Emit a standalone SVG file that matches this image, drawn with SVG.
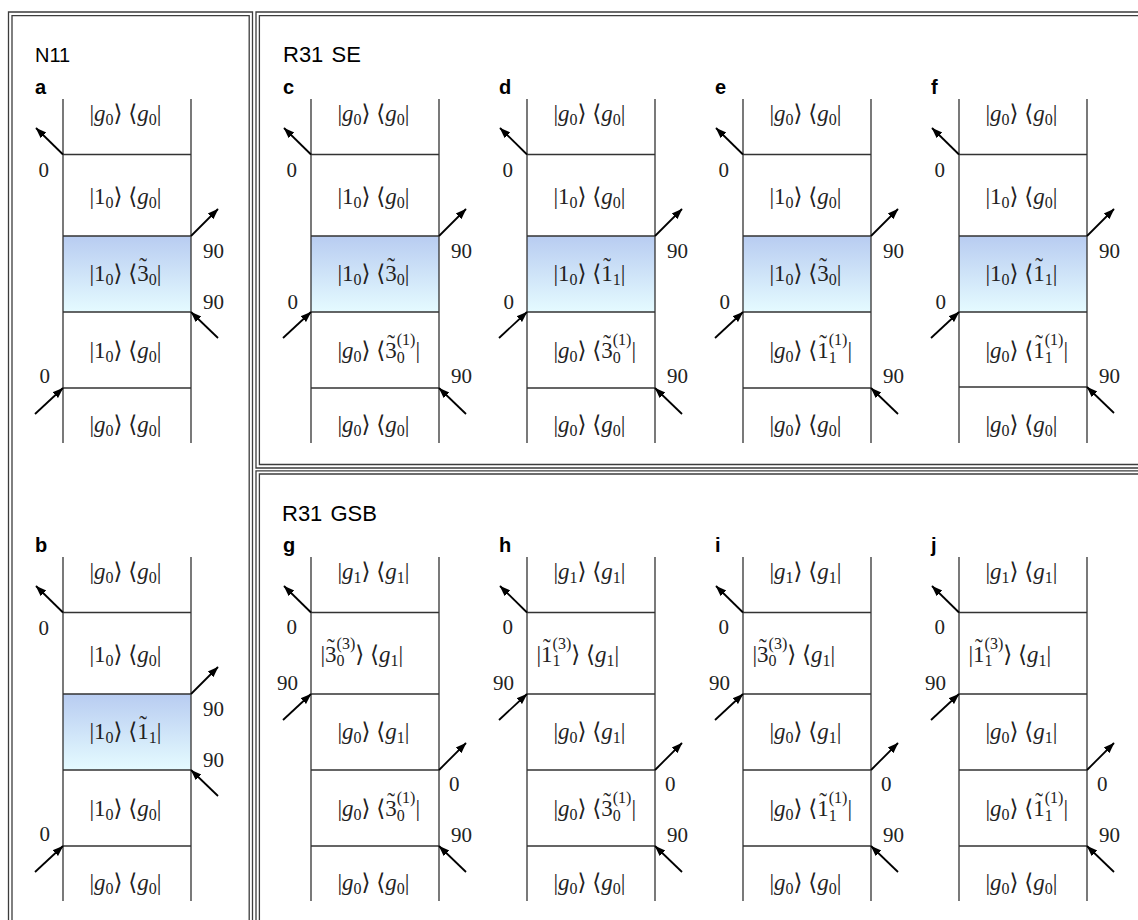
<svg xmlns="http://www.w3.org/2000/svg" width="1138" height="920" viewBox="0 0 1138 920">
<style>
.fr{fill:none;stroke:#3c3c3c;stroke-width:1.3}
.ld{fill:none;stroke:#333;stroke-width:1.3}
.ar{stroke:#000;stroke-width:1.8;fill:none;marker-end:url(#ah)}
.m{font-family:'Liberation Serif','DejaVu Serif',serif;font-size:23px;fill:#222}
.n{font-family:'Liberation Serif','DejaVu Serif',serif;font-size:21px;fill:#222}
.e{text-anchor:end}
.t{font-family:'Liberation Sans',Arial,sans-serif;font-size:20px;fill:#000}
.w{font-size:22px;word-spacing:2px}
.lb{font-family:'Liberation Sans',Arial,sans-serif;font-size:20px;font-weight:bold;fill:#000}
.i{font-style:italic}
.s{font-size:16px}
.sh{fill:url(#gr)}
</style>
<defs>
<linearGradient id="gr" x1="0" y1="0" x2="0" y2="1">
<stop offset="0" stop-color="#b8ccf1"/>
<stop offset="1" stop-color="#e5fbff"/>
</linearGradient>
<marker id="ah" markerWidth="12" markerHeight="10" refX="10.5" refY="5" orient="auto" markerUnits="userSpaceOnUse">
<path d="M0,1 L11,5 L0,9 z" fill="#000"/>
</marker>
</defs>
<rect width="1138" height="920" fill="#fff"/>

<g id="frames">
<path class="fr" d="M8.5,925 V12 H252.5 V925"/>
<path class="fr" d="M12,925 V15.7 H249.2 V925"/>
<path class="fr" d="M1145,12 H256 V468 H1145"/>
<path class="fr" d="M1145,15.7 H259.4 V464.5 H1145"/>
<path class="fr" d="M1145,470.8 H256 V925"/>
<path class="fr" d="M1145,474 H259.4 V925"/>
<text class="t" x="35" y="62">N11</text>
<text class="t w" x="283" y="62">R31 SE</text>
<text class="t w" x="282" y="521">R31 GSB</text>
</g>

<!-- Panel a -->
<g id="panel-a">
<rect class="sh" x="63" y="236" width="128" height="76"/>
<path class="ld" d="M63,99 V443 M191,99 V443 M63,154.5 H191 M63,236 H191 M63,312 H191 M63,388 H191"/>
<text class="lb" x="35" y="94">a</text>
<text class="m" x="89.5" y="121">|<tspan class="i">g</tspan><tspan class="s" dy="4">0</tspan><tspan dy="-4">⟩ ⟨</tspan><tspan class="i">g</tspan><tspan class="s" dy="4">0</tspan><tspan dy="-4">|</tspan></text>
<text class="m" x="89.5" y="203.5">|1<tspan class="s" dy="4">0</tspan><tspan dy="-4">⟩ ⟨</tspan><tspan class="i">g</tspan><tspan class="s" dy="4">0</tspan><tspan dy="-4">|</tspan></text>
<text class="m" x="89.5" y="281">|1<tspan class="s" dy="4">0</tspan><tspan dy="-4">⟩ ⟨3</tspan><tspan dx="-9.6" dy="-7">˜</tspan><tspan class="s" dx="1.9" dy="11">0</tspan><tspan dy="-4">|</tspan></text>
<text class="m" x="89.5" y="358">|1<tspan class="s" dy="4">0</tspan><tspan dy="-4">⟩ ⟨</tspan><tspan class="i">g</tspan><tspan class="s" dy="4">0</tspan><tspan dy="-4">|</tspan></text>
<text class="m" x="89.5" y="432">|<tspan class="i">g</tspan><tspan class="s" dy="4">0</tspan><tspan dy="-4">⟩ ⟨</tspan><tspan class="i">g</tspan><tspan class="s" dy="4">0</tspan><tspan dy="-4">|</tspan></text>
<text class="n e" x="49" y="177">0</text>
<text class="n" x="203" y="257.5">90</text>
<text class="n" x="203" y="308.5">90</text>
<text class="n e" x="50" y="382.5">0</text>
</g>

<!-- Panel b -->
<g id="panel-b">
<rect class="sh" x="63" y="694" width="128" height="76"/>
<path class="ld" d="M63,557 V901 M191,557 V901 M63,612.5 H191 M63,694 H191 M63,770 H191 M63,846 H191"/>
<text class="lb" x="35" y="552">b</text>
<text class="m" x="89.5" y="579">|<tspan class="i">g</tspan><tspan class="s" dy="4">0</tspan><tspan dy="-4">⟩ ⟨</tspan><tspan class="i">g</tspan><tspan class="s" dy="4">0</tspan><tspan dy="-4">|</tspan></text>
<text class="m" x="89.5" y="661.5">|1<tspan class="s" dy="4">0</tspan><tspan dy="-4">⟩ ⟨</tspan><tspan class="i">g</tspan><tspan class="s" dy="4">0</tspan><tspan dy="-4">|</tspan></text>
<text class="m" x="89.5" y="739">|1<tspan class="s" dy="4">0</tspan><tspan dy="-4">⟩ ⟨1</tspan><tspan dx="-9.6" dy="-7">˜</tspan><tspan class="s" dx="1.9" dy="11">1</tspan><tspan dy="-4">|</tspan></text>
<text class="m" x="89.5" y="816">|1<tspan class="s" dy="4">0</tspan><tspan dy="-4">⟩ ⟨</tspan><tspan class="i">g</tspan><tspan class="s" dy="4">0</tspan><tspan dy="-4">|</tspan></text>
<text class="m" x="89.5" y="890">|<tspan class="i">g</tspan><tspan class="s" dy="4">0</tspan><tspan dy="-4">⟩ ⟨</tspan><tspan class="i">g</tspan><tspan class="s" dy="4">0</tspan><tspan dy="-4">|</tspan></text>
<text class="n e" x="49" y="635">0</text>
<text class="n" x="203" y="715.5">90</text>
<text class="n" x="203" y="766.5">90</text>
<text class="n e" x="50" y="840.5">0</text>
</g>

<!-- Panel c -->
<g id="panel-c">
<rect class="sh" x="311" y="236" width="128" height="76"/>
<path class="ld" d="M311,99 V443 M439,99 V443 M311,154.5 H439 M311,236 H439 M311,312 H439 M311,388 H439"/>
<text class="lb" x="283" y="94">c</text>
<text class="m" x="337.5" y="121">|<tspan class="i">g</tspan><tspan class="s" dy="4">0</tspan><tspan dy="-4">⟩ ⟨</tspan><tspan class="i">g</tspan><tspan class="s" dy="4">0</tspan><tspan dy="-4">|</tspan></text>
<text class="m" x="337.5" y="203.5">|1<tspan class="s" dy="4">0</tspan><tspan dy="-4">⟩ ⟨</tspan><tspan class="i">g</tspan><tspan class="s" dy="4">0</tspan><tspan dy="-4">|</tspan></text>
<text class="m" x="337.5" y="281">|1<tspan class="s" dy="4">0</tspan><tspan dy="-4">⟩ ⟨3</tspan><tspan dx="-9.6" dy="-7">˜</tspan><tspan class="s" dx="1.9" dy="11">0</tspan><tspan dy="-4">|</tspan></text>
<text class="m" x="337.5" y="358">|<tspan class="i">g</tspan><tspan class="s" dy="4">0</tspan><tspan dy="-4">⟩ ⟨3</tspan><tspan dx="-9.6" dy="-7">˜</tspan><tspan class="s" dx="1.9" dy="-6">(1)</tspan><tspan class="s" dx="-18.7" dy="17.5">0</tspan><tspan dx="10.7" dy="-4.5">|</tspan></text>
<text class="m" x="337.5" y="432">|<tspan class="i">g</tspan><tspan class="s" dy="4">0</tspan><tspan dy="-4">⟩ ⟨</tspan><tspan class="i">g</tspan><tspan class="s" dy="4">0</tspan><tspan dy="-4">|</tspan></text>
<text class="n e" x="297" y="177">0</text>
<text class="n" x="451" y="257.5">90</text>
<text class="n e" x="298" y="308.5">0</text>
<text class="n" x="451" y="382.5">90</text>
</g>

<!-- Panel d -->
<g id="panel-d">
<rect class="sh" x="527" y="236" width="128" height="76"/>
<path class="ld" d="M527,99 V443 M655,99 V443 M527,154.5 H655 M527,236 H655 M527,312 H655 M527,388 H655"/>
<text class="lb" x="499" y="94">d</text>
<text class="m" x="553.5" y="121">|<tspan class="i">g</tspan><tspan class="s" dy="4">0</tspan><tspan dy="-4">⟩ ⟨</tspan><tspan class="i">g</tspan><tspan class="s" dy="4">0</tspan><tspan dy="-4">|</tspan></text>
<text class="m" x="553.5" y="203.5">|1<tspan class="s" dy="4">0</tspan><tspan dy="-4">⟩ ⟨</tspan><tspan class="i">g</tspan><tspan class="s" dy="4">0</tspan><tspan dy="-4">|</tspan></text>
<text class="m" x="553.5" y="281">|1<tspan class="s" dy="4">0</tspan><tspan dy="-4">⟩ ⟨1</tspan><tspan dx="-9.6" dy="-7">˜</tspan><tspan class="s" dx="1.9" dy="11">1</tspan><tspan dy="-4">|</tspan></text>
<text class="m" x="553.5" y="358">|<tspan class="i">g</tspan><tspan class="s" dy="4">0</tspan><tspan dy="-4">⟩ ⟨3</tspan><tspan dx="-9.6" dy="-7">˜</tspan><tspan class="s" dx="1.9" dy="-6">(1)</tspan><tspan class="s" dx="-18.7" dy="17.5">0</tspan><tspan dx="10.7" dy="-4.5">|</tspan></text>
<text class="m" x="553.5" y="432">|<tspan class="i">g</tspan><tspan class="s" dy="4">0</tspan><tspan dy="-4">⟩ ⟨</tspan><tspan class="i">g</tspan><tspan class="s" dy="4">0</tspan><tspan dy="-4">|</tspan></text>
<text class="n e" x="513" y="177">0</text>
<text class="n" x="667" y="257.5">90</text>
<text class="n e" x="514" y="308.5">0</text>
<text class="n" x="667" y="382.5">90</text>
</g>

<!-- Panel e -->
<g id="panel-e">
<rect class="sh" x="743" y="236" width="128" height="76"/>
<path class="ld" d="M743,99 V443 M871,99 V443 M743,154.5 H871 M743,236 H871 M743,312 H871 M743,388 H871"/>
<text class="lb" x="715" y="94">e</text>
<text class="m" x="769.5" y="121">|<tspan class="i">g</tspan><tspan class="s" dy="4">0</tspan><tspan dy="-4">⟩ ⟨</tspan><tspan class="i">g</tspan><tspan class="s" dy="4">0</tspan><tspan dy="-4">|</tspan></text>
<text class="m" x="769.5" y="203.5">|1<tspan class="s" dy="4">0</tspan><tspan dy="-4">⟩ ⟨</tspan><tspan class="i">g</tspan><tspan class="s" dy="4">0</tspan><tspan dy="-4">|</tspan></text>
<text class="m" x="769.5" y="281">|1<tspan class="s" dy="4">0</tspan><tspan dy="-4">⟩ ⟨3</tspan><tspan dx="-9.6" dy="-7">˜</tspan><tspan class="s" dx="1.9" dy="11">0</tspan><tspan dy="-4">|</tspan></text>
<text class="m" x="769.5" y="358">|<tspan class="i">g</tspan><tspan class="s" dy="4">0</tspan><tspan dy="-4">⟩ ⟨1</tspan><tspan dx="-9.6" dy="-7">˜</tspan><tspan class="s" dx="1.9" dy="-6">(1)</tspan><tspan class="s" dx="-18.7" dy="17.5">1</tspan><tspan dx="10.7" dy="-4.5">|</tspan></text>
<text class="m" x="769.5" y="432">|<tspan class="i">g</tspan><tspan class="s" dy="4">0</tspan><tspan dy="-4">⟩ ⟨</tspan><tspan class="i">g</tspan><tspan class="s" dy="4">0</tspan><tspan dy="-4">|</tspan></text>
<text class="n e" x="729" y="177">0</text>
<text class="n" x="883" y="257.5">90</text>
<text class="n e" x="730" y="308.5">0</text>
<text class="n" x="883" y="382.5">90</text>
</g>

<!-- Panel f -->
<g id="panel-f">
<rect class="sh" x="959" y="236" width="128" height="76"/>
<path class="ld" d="M959,99 V443 M1087,99 V443 M959,154.5 H1087 M959,236 H1087 M959,312 H1087 M959,387 H1087"/>
<text class="lb" x="931" y="94">f</text>
<text class="m" x="985.5" y="121">|<tspan class="i">g</tspan><tspan class="s" dy="4">0</tspan><tspan dy="-4">⟩ ⟨</tspan><tspan class="i">g</tspan><tspan class="s" dy="4">0</tspan><tspan dy="-4">|</tspan></text>
<text class="m" x="985.5" y="203.5">|1<tspan class="s" dy="4">0</tspan><tspan dy="-4">⟩ ⟨</tspan><tspan class="i">g</tspan><tspan class="s" dy="4">0</tspan><tspan dy="-4">|</tspan></text>
<text class="m" x="985.5" y="281">|1<tspan class="s" dy="4">0</tspan><tspan dy="-4">⟩ ⟨1</tspan><tspan dx="-9.6" dy="-7">˜</tspan><tspan class="s" dx="1.9" dy="11">1</tspan><tspan dy="-4">|</tspan></text>
<text class="m" x="985.5" y="358">|<tspan class="i">g</tspan><tspan class="s" dy="4">0</tspan><tspan dy="-4">⟩ ⟨1</tspan><tspan dx="-9.6" dy="-7">˜</tspan><tspan class="s" dx="1.9" dy="-6">(1)</tspan><tspan class="s" dx="-18.7" dy="17.5">1</tspan><tspan dx="10.7" dy="-4.5">|</tspan></text>
<text class="m" x="985.5" y="432">|<tspan class="i">g</tspan><tspan class="s" dy="4">0</tspan><tspan dy="-4">⟩ ⟨</tspan><tspan class="i">g</tspan><tspan class="s" dy="4">0</tspan><tspan dy="-4">|</tspan></text>
<text class="n e" x="945" y="177">0</text>
<text class="n" x="1099" y="257.5">90</text>
<text class="n e" x="946" y="308.5">0</text>
<text class="n" x="1099" y="382.5">90</text>
</g>

<!-- Panel g -->
<g id="panel-g">
<path class="ld" d="M311,557 V901 M439,557 V901 M311,612.5 H439 M311,694 H439 M311,770 H439 M311,846 H439"/>
<text class="lb" x="283" y="552">g</text>
<text class="m" x="337.5" y="579">|<tspan class="i">g</tspan><tspan class="s" dy="4">1</tspan><tspan dy="-4">⟩ ⟨</tspan><tspan class="i">g</tspan><tspan class="s" dy="4">1</tspan><tspan dy="-4">|</tspan></text>
<text class="m" x="320.5" y="661.5">|3<tspan dx="-9.6" dy="-7">˜</tspan><tspan class="s" dx="1.9" dy="-6">(3)</tspan><tspan class="s" dx="-18.7" dy="17.5">0</tspan><tspan dx="10.7" dy="-4.5">⟩ ⟨</tspan><tspan class="i">g</tspan><tspan class="s" dy="4">1</tspan><tspan dy="-4">|</tspan></text>
<text class="m" x="337.5" y="739">|<tspan class="i">g</tspan><tspan class="s" dy="4">0</tspan><tspan dy="-4">⟩ ⟨</tspan><tspan class="i">g</tspan><tspan class="s" dy="4">1</tspan><tspan dy="-4">|</tspan></text>
<text class="m" x="337.5" y="816">|<tspan class="i">g</tspan><tspan class="s" dy="4">0</tspan><tspan dy="-4">⟩ ⟨3</tspan><tspan dx="-9.6" dy="-7">˜</tspan><tspan class="s" dx="1.9" dy="-6">(1)</tspan><tspan class="s" dx="-18.7" dy="17.5">0</tspan><tspan dx="10.7" dy="-4.5">|</tspan></text>
<text class="m" x="337.5" y="890">|<tspan class="i">g</tspan><tspan class="s" dy="4">0</tspan><tspan dy="-4">⟩ ⟨</tspan><tspan class="i">g</tspan><tspan class="s" dy="4">0</tspan><tspan dy="-4">|</tspan></text>
<text class="n e" x="297" y="633.5">0</text>
<text class="n e" x="298" y="689.5">90</text>
<text class="n" x="449" y="791">0</text>
<text class="n" x="451" y="842">90</text>
</g>

<!-- Panel h -->
<g id="panel-h">
<path class="ld" d="M527,557 V901 M655,557 V901 M527,612.5 H655 M527,694 H655 M527,770 H655 M527,846 H655"/>
<text class="lb" x="499" y="552">h</text>
<text class="m" x="553.5" y="579">|<tspan class="i">g</tspan><tspan class="s" dy="4">1</tspan><tspan dy="-4">⟩ ⟨</tspan><tspan class="i">g</tspan><tspan class="s" dy="4">1</tspan><tspan dy="-4">|</tspan></text>
<text class="m" x="536.5" y="661.5">|1<tspan dx="-9.6" dy="-7">˜</tspan><tspan class="s" dx="1.9" dy="-6">(3)</tspan><tspan class="s" dx="-18.7" dy="17.5">1</tspan><tspan dx="10.7" dy="-4.5">⟩ ⟨</tspan><tspan class="i">g</tspan><tspan class="s" dy="4">1</tspan><tspan dy="-4">|</tspan></text>
<text class="m" x="553.5" y="739">|<tspan class="i">g</tspan><tspan class="s" dy="4">0</tspan><tspan dy="-4">⟩ ⟨</tspan><tspan class="i">g</tspan><tspan class="s" dy="4">1</tspan><tspan dy="-4">|</tspan></text>
<text class="m" x="553.5" y="816">|<tspan class="i">g</tspan><tspan class="s" dy="4">0</tspan><tspan dy="-4">⟩ ⟨3</tspan><tspan dx="-9.6" dy="-7">˜</tspan><tspan class="s" dx="1.9" dy="-6">(1)</tspan><tspan class="s" dx="-18.7" dy="17.5">0</tspan><tspan dx="10.7" dy="-4.5">|</tspan></text>
<text class="m" x="553.5" y="890">|<tspan class="i">g</tspan><tspan class="s" dy="4">0</tspan><tspan dy="-4">⟩ ⟨</tspan><tspan class="i">g</tspan><tspan class="s" dy="4">0</tspan><tspan dy="-4">|</tspan></text>
<text class="n e" x="513" y="633.5">0</text>
<text class="n e" x="514" y="689.5">90</text>
<text class="n" x="665" y="791">0</text>
<text class="n" x="667" y="842">90</text>
</g>

<!-- Panel i -->
<g id="panel-i">
<path class="ld" d="M743,557 V901 M871,557 V901 M743,612.5 H871 M743,694 H871 M743,770 H871 M743,846 H871"/>
<text class="lb" x="715" y="552">i</text>
<text class="m" x="769.5" y="579">|<tspan class="i">g</tspan><tspan class="s" dy="4">1</tspan><tspan dy="-4">⟩ ⟨</tspan><tspan class="i">g</tspan><tspan class="s" dy="4">1</tspan><tspan dy="-4">|</tspan></text>
<text class="m" x="752.5" y="661.5">|3<tspan dx="-9.6" dy="-7">˜</tspan><tspan class="s" dx="1.9" dy="-6">(3)</tspan><tspan class="s" dx="-18.7" dy="17.5">0</tspan><tspan dx="10.7" dy="-4.5">⟩ ⟨</tspan><tspan class="i">g</tspan><tspan class="s" dy="4">1</tspan><tspan dy="-4">|</tspan></text>
<text class="m" x="769.5" y="739">|<tspan class="i">g</tspan><tspan class="s" dy="4">0</tspan><tspan dy="-4">⟩ ⟨</tspan><tspan class="i">g</tspan><tspan class="s" dy="4">1</tspan><tspan dy="-4">|</tspan></text>
<text class="m" x="769.5" y="816">|<tspan class="i">g</tspan><tspan class="s" dy="4">0</tspan><tspan dy="-4">⟩ ⟨1</tspan><tspan dx="-9.6" dy="-7">˜</tspan><tspan class="s" dx="1.9" dy="-6">(1)</tspan><tspan class="s" dx="-18.7" dy="17.5">1</tspan><tspan dx="10.7" dy="-4.5">|</tspan></text>
<text class="m" x="769.5" y="890">|<tspan class="i">g</tspan><tspan class="s" dy="4">0</tspan><tspan dy="-4">⟩ ⟨</tspan><tspan class="i">g</tspan><tspan class="s" dy="4">0</tspan><tspan dy="-4">|</tspan></text>
<text class="n e" x="729" y="633.5">0</text>
<text class="n e" x="730" y="689.5">90</text>
<text class="n" x="881" y="791">0</text>
<text class="n" x="883" y="842">90</text>
</g>

<!-- Panel j -->
<g id="panel-j">
<path class="ld" d="M959,557 V901 M1087,557 V901 M959,612.5 H1087 M959,694 H1087 M959,770 H1087 M959,846 H1087"/>
<text class="lb" x="931" y="552">j</text>
<text class="m" x="985.5" y="579">|<tspan class="i">g</tspan><tspan class="s" dy="4">1</tspan><tspan dy="-4">⟩ ⟨</tspan><tspan class="i">g</tspan><tspan class="s" dy="4">1</tspan><tspan dy="-4">|</tspan></text>
<text class="m" x="968.5" y="661.5">|1<tspan dx="-9.6" dy="-7">˜</tspan><tspan class="s" dx="1.9" dy="-6">(3)</tspan><tspan class="s" dx="-18.7" dy="17.5">1</tspan><tspan dx="10.7" dy="-4.5">⟩ ⟨</tspan><tspan class="i">g</tspan><tspan class="s" dy="4">1</tspan><tspan dy="-4">|</tspan></text>
<text class="m" x="985.5" y="739">|<tspan class="i">g</tspan><tspan class="s" dy="4">0</tspan><tspan dy="-4">⟩ ⟨</tspan><tspan class="i">g</tspan><tspan class="s" dy="4">1</tspan><tspan dy="-4">|</tspan></text>
<text class="m" x="985.5" y="816">|<tspan class="i">g</tspan><tspan class="s" dy="4">0</tspan><tspan dy="-4">⟩ ⟨1</tspan><tspan dx="-9.6" dy="-7">˜</tspan><tspan class="s" dx="1.9" dy="-6">(1)</tspan><tspan class="s" dx="-18.7" dy="17.5">1</tspan><tspan dx="10.7" dy="-4.5">|</tspan></text>
<text class="m" x="985.5" y="890">|<tspan class="i">g</tspan><tspan class="s" dy="4">0</tspan><tspan dy="-4">⟩ ⟨</tspan><tspan class="i">g</tspan><tspan class="s" dy="4">0</tspan><tspan dy="-4">|</tspan></text>
<text class="n e" x="945" y="633.5">0</text>
<text class="n e" x="946" y="689.5">90</text>
<text class="n" x="1097" y="791">0</text>
<text class="n" x="1099" y="842">90</text>
</g>

<g id="connectors">
<!-- a -->
<line class="ar" x1="63" y1="154.5" x2="36" y2="128"/>
<line class="ar" x1="191" y1="236" x2="218" y2="209"/>
<line class="ar" x1="218" y1="338" x2="191" y2="312"/>
<line class="ar" x1="35" y1="414" x2="63" y2="388"/>
<!-- b -->
<line class="ar" x1="63" y1="612.5" x2="36" y2="586"/>
<line class="ar" x1="191" y1="694" x2="218" y2="667"/>
<line class="ar" x1="218" y1="796" x2="191" y2="770"/>
<line class="ar" x1="35" y1="872" x2="63" y2="846"/>
<!-- c -->
<line class="ar" x1="311" y1="154.5" x2="284" y2="128"/>
<line class="ar" x1="439" y1="236" x2="466" y2="209"/>
<line class="ar" x1="283" y1="338" x2="311" y2="312"/>
<line class="ar" x1="466" y1="414" x2="439" y2="388"/>
<!-- d -->
<line class="ar" x1="527" y1="154.5" x2="500" y2="128"/>
<line class="ar" x1="655" y1="236" x2="682" y2="209"/>
<line class="ar" x1="499" y1="338" x2="527" y2="312"/>
<line class="ar" x1="682" y1="414" x2="655" y2="388"/>
<!-- e -->
<line class="ar" x1="743" y1="154.5" x2="716" y2="128"/>
<line class="ar" x1="871" y1="236" x2="898" y2="209"/>
<line class="ar" x1="715" y1="338" x2="743" y2="312"/>
<line class="ar" x1="898" y1="414" x2="871" y2="388"/>
<!-- f -->
<line class="ar" x1="959" y1="154.5" x2="932" y2="128"/>
<line class="ar" x1="1087" y1="236" x2="1114" y2="209"/>
<line class="ar" x1="931" y1="338" x2="959" y2="312"/>
<line class="ar" x1="1114" y1="413" x2="1087" y2="387"/>
<!-- g -->
<line class="ar" x1="311" y1="612.5" x2="284" y2="586"/>
<line class="ar" x1="283" y1="720" x2="311" y2="694"/>
<line class="ar" x1="439" y1="770" x2="466" y2="743"/>
<line class="ar" x1="466" y1="872" x2="439" y2="846"/>
<!-- h -->
<line class="ar" x1="527" y1="612.5" x2="500" y2="586"/>
<line class="ar" x1="499" y1="720" x2="527" y2="694"/>
<line class="ar" x1="655" y1="770" x2="682" y2="743"/>
<line class="ar" x1="682" y1="872" x2="655" y2="846"/>
<!-- i -->
<line class="ar" x1="743" y1="612.5" x2="716" y2="586"/>
<line class="ar" x1="715" y1="720" x2="743" y2="694"/>
<line class="ar" x1="871" y1="770" x2="898" y2="743"/>
<line class="ar" x1="898" y1="872" x2="871" y2="846"/>
<!-- j -->
<line class="ar" x1="959" y1="612.5" x2="932" y2="586"/>
<line class="ar" x1="931" y1="720" x2="959" y2="694"/>
<line class="ar" x1="1087" y1="770" x2="1114" y2="743"/>
<line class="ar" x1="1114" y1="872" x2="1087" y2="846"/>
</g>
</svg>
